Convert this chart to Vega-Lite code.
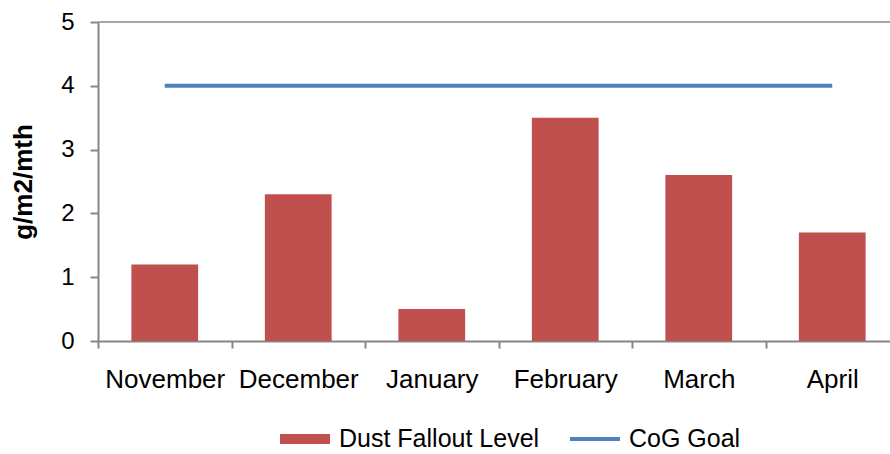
{
  "$schema": "https://vega.github.io/schema/vega-lite/v6.json",
  "width": 801,
  "height": 319,
  "autosize": {"type": "none"},
  "padding": {"left": 98, "top": 22, "right": 0, "bottom": 113},
  "background": "white",
  "config": {
    "font": "Liberation Sans",
    "view": {"stroke": null},
    "axis": {"labelFont": "Liberation Sans", "titleFont": "Liberation Sans"},
    "legend": {"labelFont": "Liberation Sans"}
  },
  "data": {
    "values": [
      {"month": "November", "dust": 1.2, "goal": 4},
      {"month": "December", "dust": 2.3, "goal": 4},
      {"month": "January", "dust": 0.5, "goal": 4},
      {"month": "February", "dust": 3.5, "goal": 4},
      {"month": "March", "dust": 2.6, "goal": 4},
      {"month": "April", "dust": 1.7, "goal": 4}
    ]
  },
  "layer": [
    {
      "mark": {"type": "rule", "color": "#a6a6a6", "strokeWidth": 2},
      "encoding": {"y": {"datum": 5, "type": "quantitative"}}
    },
    {
      "mark": {"type": "bar", "color": "#c0504d", "width": {"band": 0.5}},
      "encoding": {
        "x": {
          "field": "month", "type": "nominal", "sort": null,
          "scale": {"paddingInner": 0, "paddingOuter": 0},
          "axis": {
            "title": null, "labelAngle": 0, "labelFontSize": 26, "labelColor": "#000000",
            "tickBand": "extent", "tickSize": 7, "tickColor": "#868686", "tickWidth": 2,
            "domainColor": "#868686", "domainWidth": 2, "labelPadding": 18, "grid": false, "labelLimit": 300
          }
        },
        "y": {
          "field": "dust", "type": "quantitative",
          "scale": {"domain": [0, 5], "nice": false},
          "axis": {
            "title": "g/m2/mth", "titleFontSize": 26, "titleFontWeight": "bold", "titleColor": "#000000",
            "titlePadding": 24, "values": [0, 1, 2, 3, 4, 5], "format": "d", "labelFontSize": 24, "labelColor": "#000000",
            "tickSize": 8, "tickColor": "#868686", "tickWidth": 2, "domainColor": "#868686", "domainWidth": 2,
            "labelPadding": 16, "grid": false
          }
        },
        "color": {
          "datum": "Dust Fallout Level",
          "type": "nominal",
          "scale": {"domain": ["Dust Fallout Level", "CoG Goal"], "range": ["#c0504d", "#4f81bd"]},
          "legend": {
            "title": null, "orient": "none", "direction": "horizontal",
            "legendX": 182, "legendY": 392,
            "labelFontSize": 25, "labelColor": "#000000", "labelOffset": 9, "labelLimit": 400,
            "columnPadding": 30, "symbolSize": 2500, "symbolStrokeWidth": 0,
            "encode": {
              "symbols": {
                "update": {
                  "shape": {"signal": "datum.value === 'CoG Goal' ? 'M-1,-0.08H1V0.08H-1Z' : 'M-1,-0.2H1V0.2H-1Z'"},
                  "opacity": {"value": 1}
                }
              }
            }
          }
        }
      }
    },
    {
      "mark": {"type": "line", "strokeWidth": 4},
      "encoding": {
        "x": {"field": "month", "type": "nominal", "sort": null},
        "y": {"field": "goal", "type": "quantitative"},
        "color": {"datum": "CoG Goal", "type": "nominal"}
      }
    }
  ]
}
